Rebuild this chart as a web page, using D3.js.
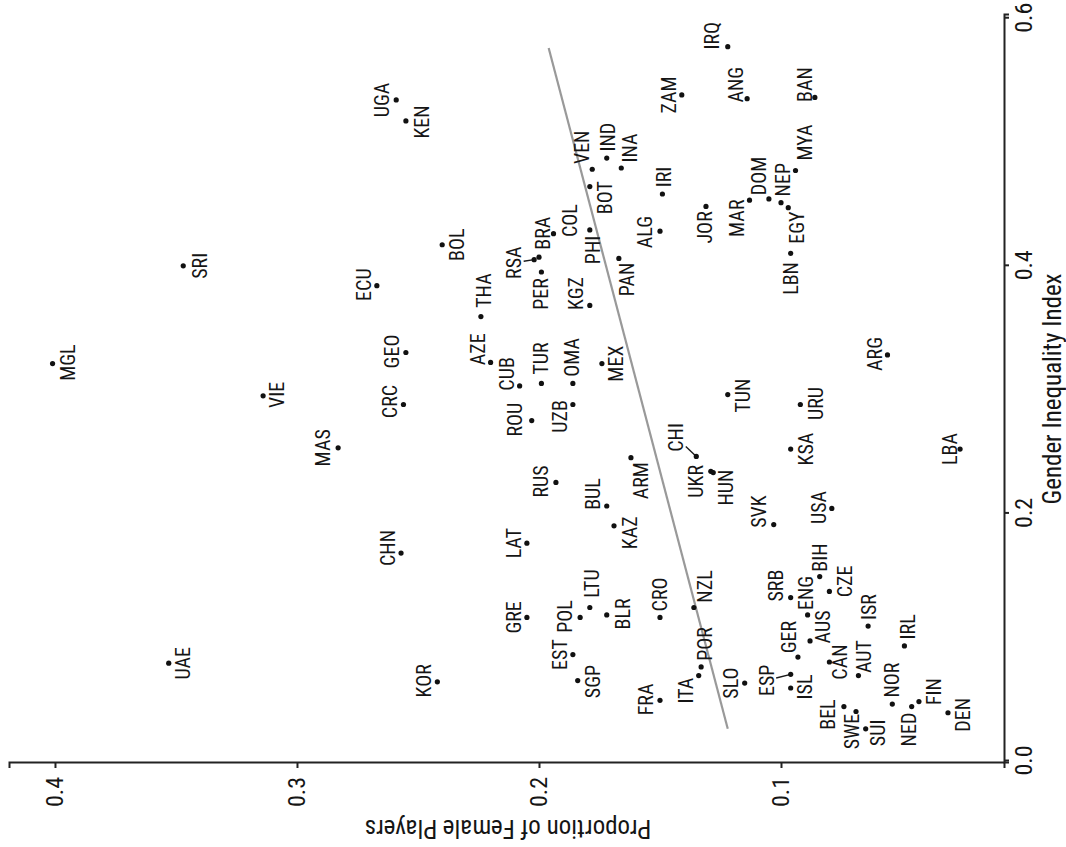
<!DOCTYPE html>
<html>
<head>
<meta charset="utf-8">
<script src="https://cdn.jsdelivr.net/npm/d3@7"></script>
<style>
  body { margin: 0; background: #fff; }
  svg text { font-family: "Liberation Sans Narrow", "Arial Narrow", "Roboto Condensed", "Liberation Sans", sans-serif; fill: #151515; }
</style>
</head>
<body>
<svg id="chart"></svg>
<script>
// country codes, gender inequality index, proportion of female players
const countries = ["MGL","SRI","VIE","UAE","MAS","UGA","KEN","ECU","GEO","CRC","BOL","THA","AZE","CUB","TUR","OMA","ROU","UZB","MEX","KGZ","RUS","BUL","ARM","RSA","BRA","PER","COL","PHI","VEN","BOT","IND","INA","PAN","ALG","IRI","ZAM","ANG","BAN","JOR","MAR","DOM","NEP","EGY","MYA","LBN","IRQ","CHI","UKR","HUN","TUN","URU","KSA","SVK","USA","ARG","LBA","CHN","KOR","LAT","GRE","KAZ","LTU","POL","BLR","EST","SGP","CRO","NZL","POR","ITA","FRA","SLO","ESP","SRB","ENG","BIH","CZE","GER","AUS","CAN","AUT","ISR","ISL","IRL","NOR","BEL","SWE","SUI","NED","FIN","DEN"];
const gii = [0.321,0.400,0.295,0.079,0.253,0.534,0.517,0.384,0.330,0.288,0.417,0.359,0.322,0.303,0.305,0.305,0.275,0.288,0.321,0.368,0.225,0.206,0.245,0.405,0.407,0.395,0.426,0.429,0.478,0.464,0.487,0.479,0.406,0.428,0.458,0.538,0.535,0.536,0.448,0.453,0.454,0.451,0.447,0.477,0.410,0.577,0.246,0.234,0.233,0.296,0.288,0.252,0.191,0.204,0.328,0.252,0.168,0.064,0.176,0.116,0.190,0.124,0.116,0.118,0.086,0.065,0.116,0.124,0.076,0.069,0.049,0.063,0.070,0.132,0.118,0.149,0.137,0.084,0.097,0.080,0.069,0.109,0.059,0.093,0.046,0.044,0.040,0.026,0.044,0.048,0.039];
const femaleShare = [0.401,0.347,0.314,0.353,0.283,0.259,0.255,0.267,0.255,0.256,0.240,0.224,0.220,0.208,0.199,0.186,0.203,0.186,0.174,0.179,0.193,0.172,0.162,0.202,0.200,0.199,0.194,0.179,0.178,0.179,0.172,0.166,0.167,0.150,0.149,0.141,0.114,0.086,0.131,0.113,0.105,0.100,0.097,0.094,0.096,0.122,0.135,0.129,0.128,0.122,0.092,0.096,0.103,0.079,0.056,0.026,0.257,0.242,0.205,0.205,0.169,0.179,0.183,0.172,0.186,0.184,0.150,0.136,0.133,0.134,0.150,0.115,0.096,0.096,0.089,0.084,0.080,0.093,0.088,0.080,0.068,0.064,0.096,0.049,0.054,0.074,0.069,0.065,0.046,0.043,0.031];

// fitted trend line
const fitGii = [0.026, 0.576];
const fitShare = [0.122, 0.196];

const giiTicks = [0, 0.2, 0.4, 0.6];
const shareTicks = [0.1, 0.2, 0.3, 0.4];

// label nudges on the page (right, down) in px; segment = draw a leader line
const nudge = {
  MGL:[15,-1], SRI:[17,0], VIE:[14,-1], UAE:[14,0], MAS:[-15,0], UGA:[-14,0], KEN:[16,1],
  ECU:[-13,-1], GEO:[-14,-1], CRC:[-14,-3], BOL:[15,0], THA:[3,-26], AZE:[-13,-13],
  CUB:[-13,-12], TUR:[-1,-25], OMA:[-1,-26], ROU:[-17,-1], UZB:[-13,12], MEX:[14,0],
  KGZ:[-14,-12], RUS:[-15,-1], BUL:[-14,-12], ARM:[10,23], RSA:[-20,3], BRA:[4,-24],
  PER:[-1,22], COL:[16,-13], PHI:[3,20], VEN:[-10,-22], BOT:[15,11], IND:[1,-21],
  INA:[9,-20], PAN:[8,21], ALG:[-15,1], IRI:[1,-17], ZAM:[-13,0], ANG:[-11,-14],
  BAN:[-10,-13], JOR:[-1,21], MAR:[-13,18], DOM:[-10,-23], NEP:[2,-23], EGY:[9,20],
  MYA:[9,-28], LBN:[0,25], IRQ:[-16,-11], CHI:[-20,-19], UKR:[-15,10], HUN:[13,15],
  TUN:[15,1], URU:[15,-1], KSA:[15,0], SVK:[-15,-13], USA:[-13,-1], ARG:[-13,-1],
  LBA:[-10,0], CHN:[-13,-5], KOR:[-14,-1], LAT:[-13,0], GRE:[-13,0], KAZ:[16,7],
  LTU:[2,-24], POL:[-15,-1], BLR:[16,-1], EST:[-13,0], SGP:[15,1], CRO:[0,-23],
  NZL:[11,-21], POR:[4,-23], ITA:[-13,15], FRA:[-14,-1], SLO:[-14,0], ESP:[-24,6],
  SRB:[-15,-12], ENG:[-2,-22], BIH:[0,-19], CZE:[15,-10], GER:[-9,-20], AUS:[13,-14],
  CAN:[10,0], AUT:[5,-19], ISR:[1,-19], ISL:[14,-1], IRL:[3,-19], NOR:[-1,-24],
  BEL:[-16,8], SWE:[-4,20], SUI:[12,4], NED:[-3,23], FIN:[15,-10], DEN:[15,2]
};
const segment = new Set(["RSA", "CHI", "ESP"]);

const W = 1066, H = 847;
const svg = d3.select("#chart").attr("width", W).attr("height", H);

// the chart is drawn upright and then turned a quarter turn to the left
const g = svg.append("g").attr("transform", `translate(0,${H}) rotate(-90)`);

const x = d3.scaleLinear().domain([-0.0016, 0.6026]).range([84, 832]);   // GII
const y = d3.scaleLinear().domain([0.419, 0.00785]).range([9, 1004]);    // share

const data = countries.map((c, i) => ({ code: c, gii: gii[i], share: femaleShare[i] }));

// trend line
g.append("line")
  .attr("x1", x(fitGii[0])).attr("y1", y(fitShare[0]))
  .attr("x2", x(fitGii[1])).attr("y2", y(fitShare[1]))
  .attr("stroke", "#999").attr("stroke-width", 2.2);

// axes
const xAxis = g.append("g")
  .attr("transform", `translate(0,${y.range()[1]})`)
  .call(d3.axisBottom(x).tickValues(giiTicks).tickFormat(d3.format(".1f")).tickSizeOuter(0).tickSize(5).tickPadding(6));
const yAxis = g.append("g")
  .attr("transform", `translate(${x.range()[0]},0)`)
  .call(d3.axisLeft(y).tickValues(shareTicks).tickFormat(d3.format(".1f")).tickSizeOuter(0).tickSize(5).tickPadding(9));

[xAxis, yAxis].forEach(a => {
  a.select(".domain").attr("stroke", "#222").attr("stroke-width", 2);
  a.selectAll(".tick line").attr("stroke", "#222").attr("stroke-width", 2);
  a.selectAll(".tick text").attr("font-size", 24).attr("fill", "#151515")
    .style("font-family", null);
});

g.append("text")
  .attr("x", (x.range()[0] + x.range()[1]) / 2)
  .attr("y", 1061)
  .attr("text-anchor", "middle")
  .attr("font-size", 25)
  .text("Gender Inequality Index");

g.append("text")
  .attr("transform", `translate(27,508) rotate(-90)`)
  .attr("text-anchor", "middle")
  .attr("font-size", 25)
  .text("Proportion of Female Players");

// leader segments
data.filter(d => segment.has(d.code)).forEach(d => {
  const [dx, dy] = nudge[d.code];
  const px = x(d.gii), py = y(d.share);
  // stop the segment at the label box edge (box in page px: 15 wide, 32 tall)
  const t = Math.min(1, Math.max(0, 1 - Math.min(9.5 / Math.abs(dx || 1e-6), 18 / Math.abs(dy || 1e-6))));
  g.append("line")
    .attr("x1", px).attr("y1", py)
    .attr("x2", px - dy * t).attr("y2", py + dx * t)
    .attr("stroke", "#1a1a1a").attr("stroke-width", 1.4);
});

// points
g.append("g").selectAll("circle")
  .data(data)
  .join("circle")
  .attr("cx", d => x(d.gii))
  .attr("cy", d => y(d.share))
  .attr("r", 2.6)
  .attr("fill", "#111");

// labels
g.append("g").selectAll("text")
  .data(data)
  .join("text")
  .attr("x", d => x(d.gii) - nudge[d.code][1])
  .attr("y", d => y(d.share) + nudge[d.code][0])
  .attr("dy", "0.36em")
  .attr("text-anchor", "middle")
  .attr("font-size", 20)
  .text(d => d.code);
</script>
</body>
</html>
